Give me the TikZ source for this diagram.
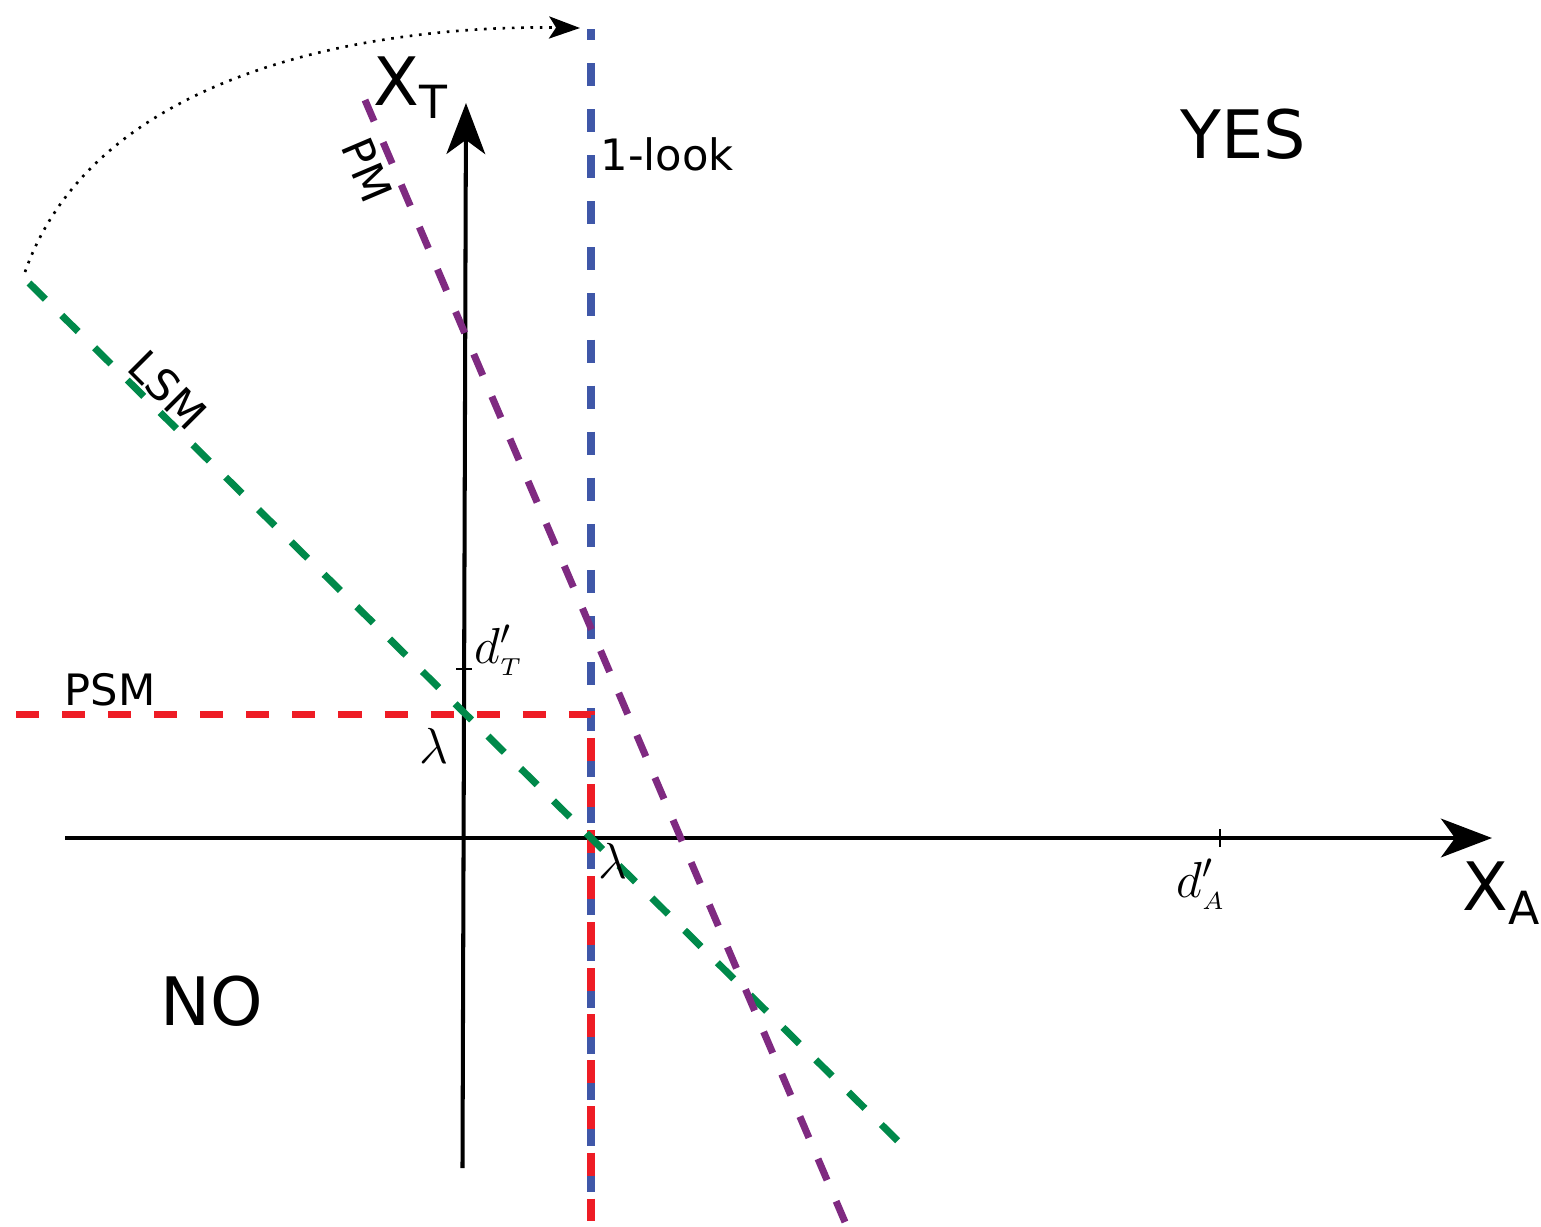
\documentclass[tikz,border=0pt]{standalone}
\usepackage{fontspec}
\setmainfont{DejaVu Sans}
\usetikzlibrary{arrows.meta}
\definecolor{cblue}{HTML}{3F57A8}
\definecolor{cred}{HTML}{EE1C25}
\definecolor{cgreen}{HTML}{00894A}
\definecolor{cpurple}{HTML}{7F2A81}
\begin{document}
\begin{tikzpicture}[x=0.01cm,y=-0.01cm,
  cl/.style={line width=2pt, dash pattern=on 6.55pt off 6.55pt},
  axisline/.style={line width=1.15pt, -{Stealth[length=14.5pt,width=11pt,inset=4pt]}},
  big/.style={font=\fontsize{19}{23}\selectfont, inner sep=0pt},
  small/.style={font=\fontsize{12.3}{14}\selectfont, inner sep=0pt},
  mth/.style={font=\fontsize{14.5}{17}\selectfont, inner sep=0pt},
  tick/.style={line width=0.6pt}]
\useasboundingbox (0,0) rectangle (1541,1226);
% coordinates
\coordinate (xa0) at (65,838);
\coordinate (xa1) at (1492,838);
\coordinate (xt0) at (462.5,1168);
\coordinate (xt1) at (466,103);
\coordinate (b0) at (591,29);
\coordinate (b1) at (591,1221);
\coordinate (r0) at (16,714);
\coordinate (rc) at (591,714);
\coordinate (r1) at (591,1221);
\coordinate (g0) at (29,283);
\coordinate (g1) at (900,1143);
\coordinate (p0) at (365,100);
\coordinate (p1) at (845,1222);
\coordinate (a0) at (25,272);
\coordinate (a1) at (580,28);
\coordinate (tT0) at (456,669);
\coordinate (tT1) at (472,669);
\coordinate (tA0) at (1220,829);
\coordinate (tA1) at (1220,847);
% axes
\draw[axisline] (xa0) -- (xa1);
\draw[axisline] (xt0) -- (xt1);
\draw[tick] (tT0) -- (tT1);
\draw[tick] (tA0) -- (tA1);
% boundary lines
\draw[cl, cblue, dash phase=3.4pt] (b0) -- (b1);
\draw[cl, cred] (r0) -- (rc) -- (r1);
\draw[cl, cgreen] (g0) -- (g1);
\draw[cl, cpurple] (p0) -- (p1);
% dotted arc
\draw[line width=0.75pt, dash pattern=on 0.75pt off 1.9pt,
  -{Stealth[length=8.8pt,width=6.3pt,inset=2pt]}]
  (a0) .. controls (100,60) and (400,25) .. (a1);
% labels
\node[big, anchor=base west] (xt) at (373,105) {X\raisebox{-0.13cm}{\fontsize{13}{15}\selectfont T}};
\node[big, anchor=base west] (xa) at (1462,910) {X\raisebox{-0.14cm}{\fontsize{13}{15}\selectfont A}};
\node[big, anchor=base west] (yes) at (1180,158) {YES};
\node[big, anchor=base west] (no) at (160,1025) {NO};
\node[small, anchor=base west] (look) at (600,170) {1-look};
\node[small, anchor=base west] (psm) at (64,705) {PSM};
\node[small, rotate=-45] (lsm) at (168,390) {LSM};
\node[small, rotate=-67] (pm) at (367,170) {PM};
\node[mth, anchor=base west] (dT) at (474,663) {$d'_{\scriptscriptstyle T}$};
\node[mth] (l1) at (434,746) {$\lambda$};
\node[mth] (l2) at (613,861) {$\lambda$};
\node[mth, anchor=base west] (dA) at (1176,897) {$d'_{\scriptscriptstyle A}$};
\end{tikzpicture}
\end{document}
